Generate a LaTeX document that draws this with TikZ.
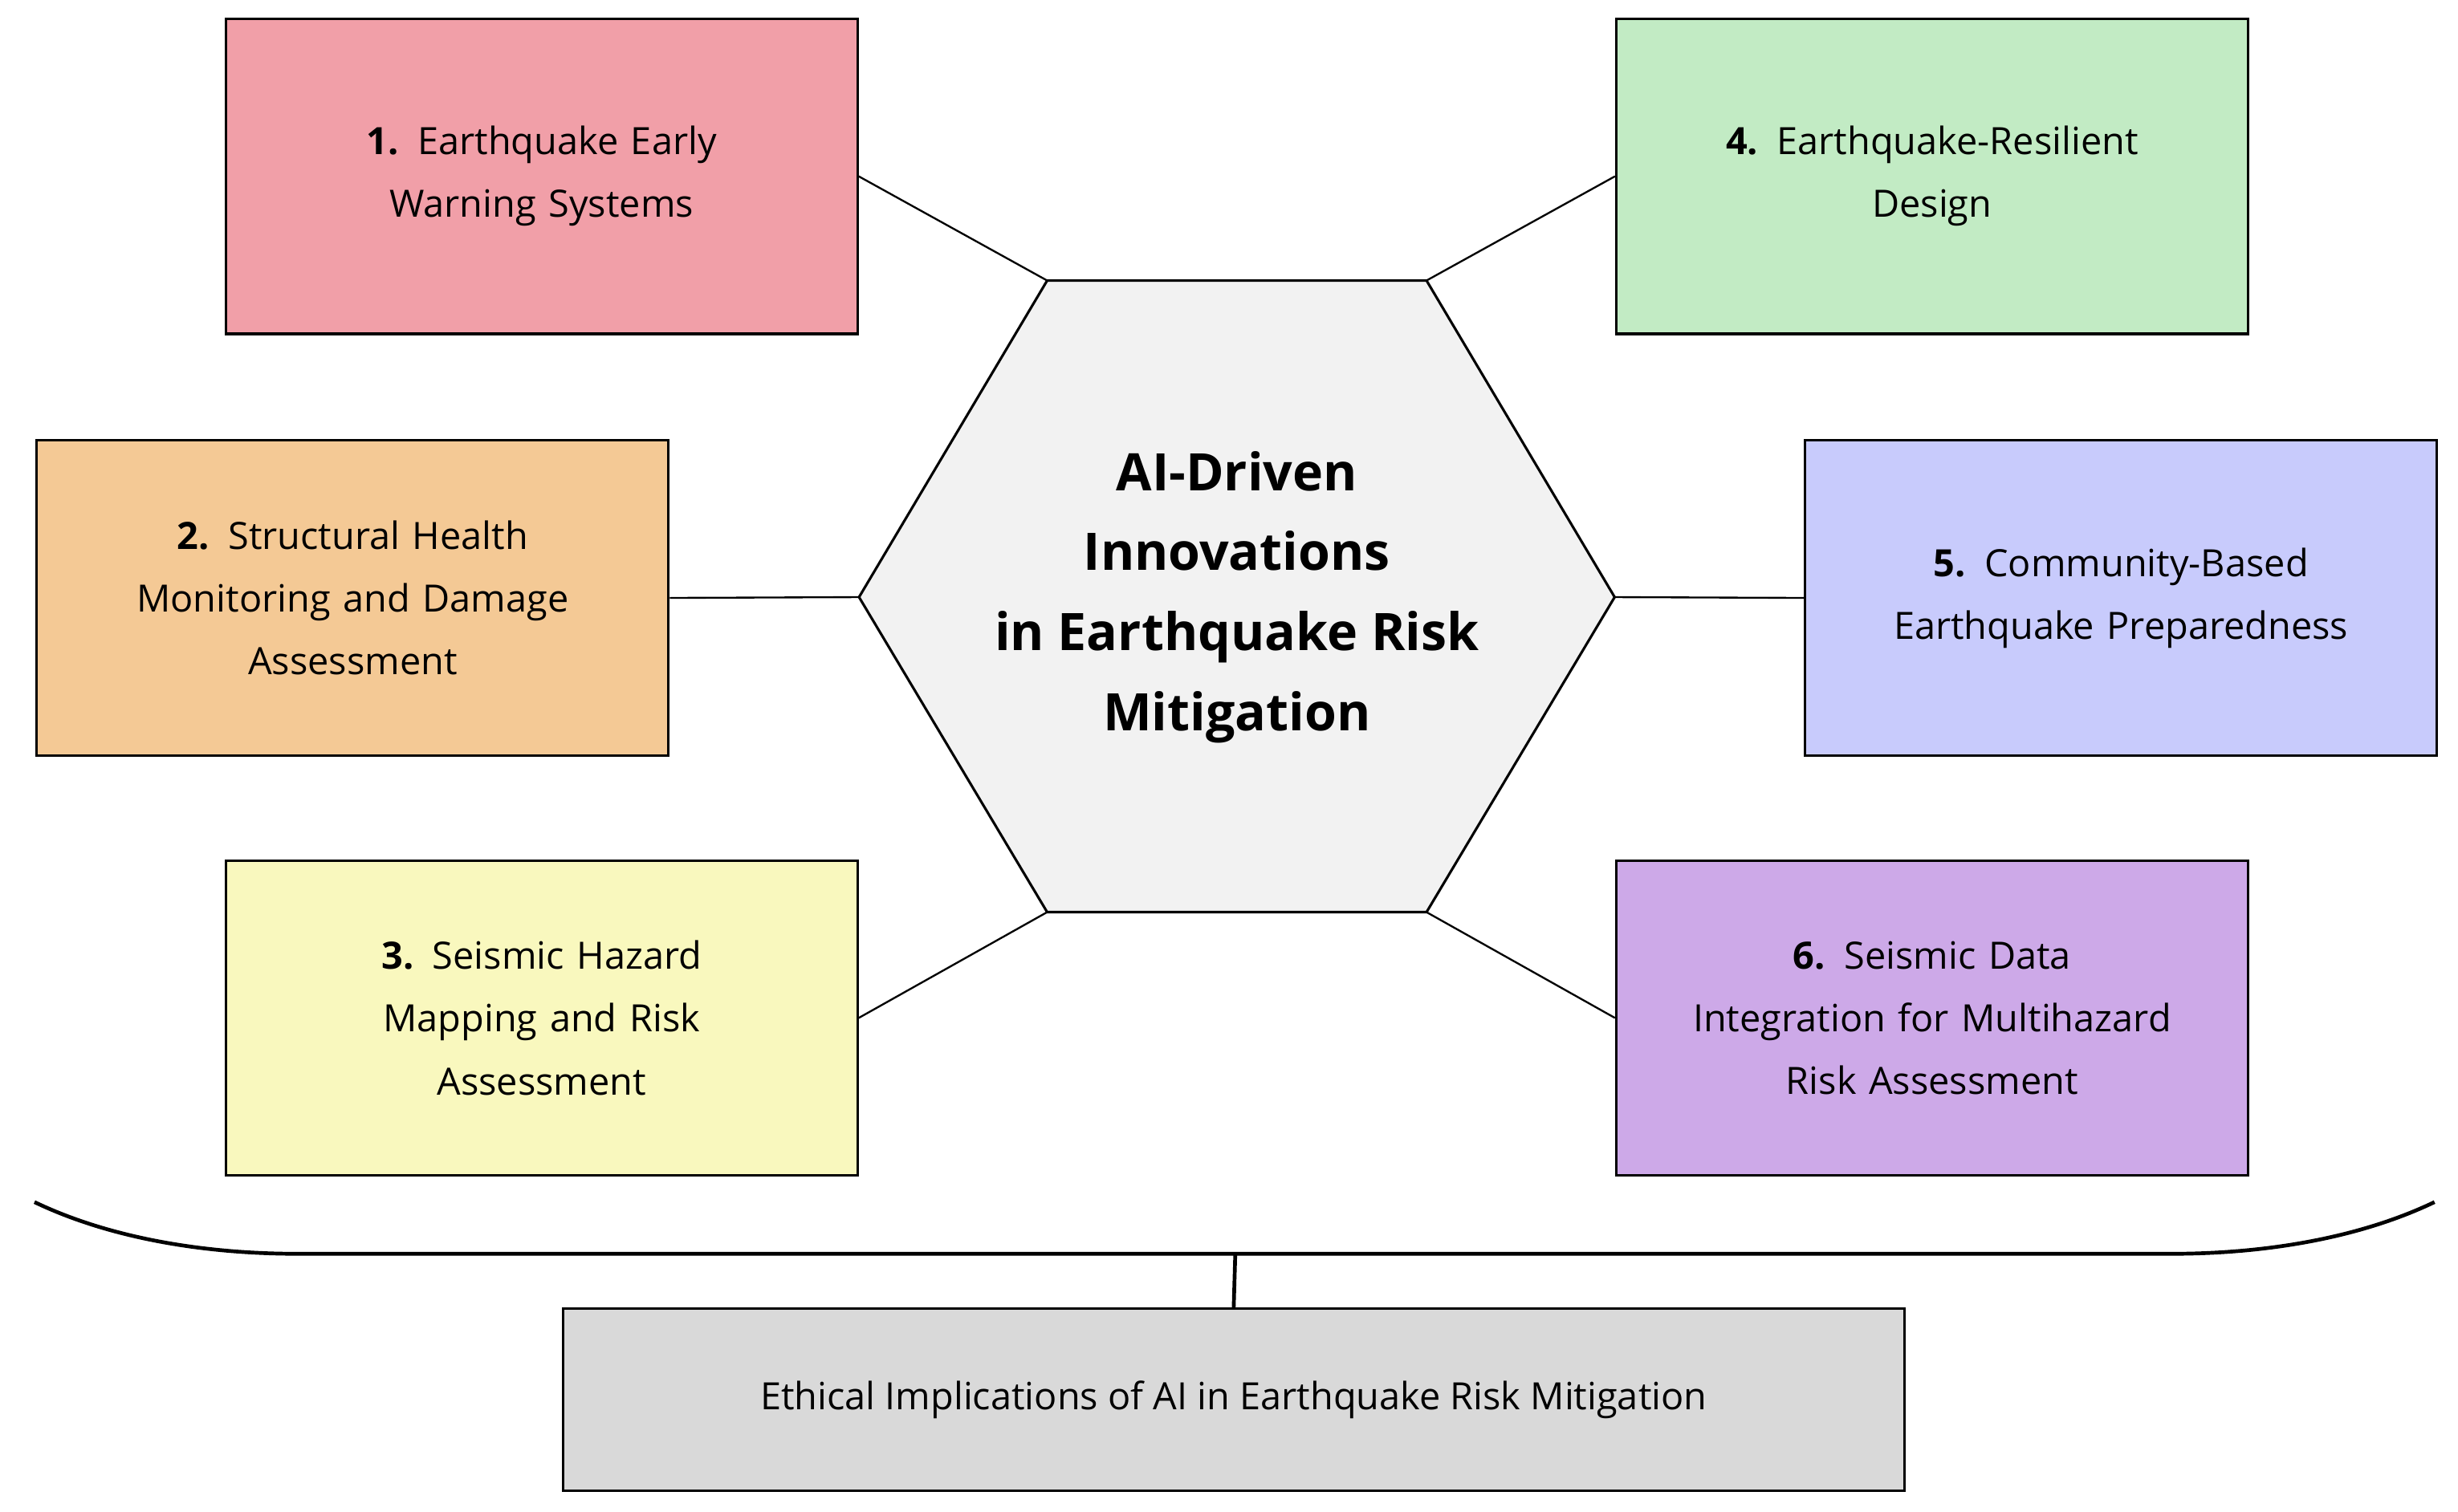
\documentclass[tikz,border=0pt]{standalone}
\usepackage{fontspec}
\setmainfont{Open Sans}
\definecolor{c1}{HTML}{F19FA8}
\definecolor{c2}{HTML}{F4C995}
\definecolor{c3}{HTML}{F9F8BE}
\definecolor{c4}{HTML}{C2EBC4}
\definecolor{c5}{HTML}{C8CBFC}
\definecolor{c6}{HTML}{CDA9E8}
\definecolor{hexc}{HTML}{F2F2F2}
\definecolor{ethc}{HTML}{D9D9D9}
\begin{document}
\begin{tikzpicture}[x=1pt,y=-1pt,line width=1.6pt,
  topic/.style={draw,minimum width=403pt,minimum height=201pt,align=center,font=\fontsize{24}{40}\selectfont,text width=390pt},
  conn/.style={line width=1.2pt}]
\useasboundingbox (0,0) rectangle (1568,964.6);
\node[topic,fill=c1] (b1) at (345.5,112.5) {\textbf{1.} Earthquake Early\\Warning Systems};
\node[topic,fill=c4] (b4) at (1232.5,112.5) {\textbf{4.} Earthquake-Resilient\\Design};
\node[topic,fill=c2] (b2) at (225,381.5) {\textbf{2.} Structural Health\\Monitoring and Damage\\Assessment};
\node[topic,fill=c5] (b5) at (1353,381.5) {\textbf{5.} Community-Based\\Earthquake Preparedness};
\node[topic,fill=c3] (b3) at (345.5,649.5) {\textbf{3.} Seismic Hazard\\Mapping and Risk\\Assessment};
\node[topic,fill=c6] (b6) at (1232.5,649.5) {\textbf{6.} Seismic Data\\Integration for Multihazard\\Risk Assessment};
\coordinate (h1) at (668,179);
\coordinate (h2) at (910,179);
\coordinate (h3) at (1030,381);
\coordinate (h4) at (910,582);
\coordinate (h5) at (668,582);
\coordinate (h6) at (548,381);
\draw[fill=hexc] (h1)--(h2)--(h3)--(h4)--(h5)--(h6)--cycle;
\node[align=center,font=\fontsize{33}{51}\selectfont\bfseries] (hub) at (789,381) {AI-Driven\\Innovations\\in Earthquake Risk\\Mitigation};
\draw[conn] (b1.east)--(h1);
\draw[conn] (b4.west)--(h2);
\draw[conn] (b2.east)--(h6);
\draw[conn] (b5.west)--(h3);
\draw[conn] (b3.east)--(h5);
\draw[conn] (b6.west)--(h4);
\node[draw,fill=ethc,minimum width=856pt,minimum height=116pt,font=\fontsize{24}{40}\selectfont] (eth) at (787,893) {Ethical Implications of AI in Earthquake Risk Mitigation};
\coordinate (bl) at (22,767);
\coordinate (br) at (1553,767);
\coordinate (bm) at (788,800);
\draw[line width=2.4pt] (bl) .. controls (70,790) and (130,800) .. (190,800) -- (1385,800) .. controls (1445,800) and (1505,790) .. (br);
\draw[line width=2.4pt] (bm) -- (eth.north);
\end{tikzpicture}
\end{document}
